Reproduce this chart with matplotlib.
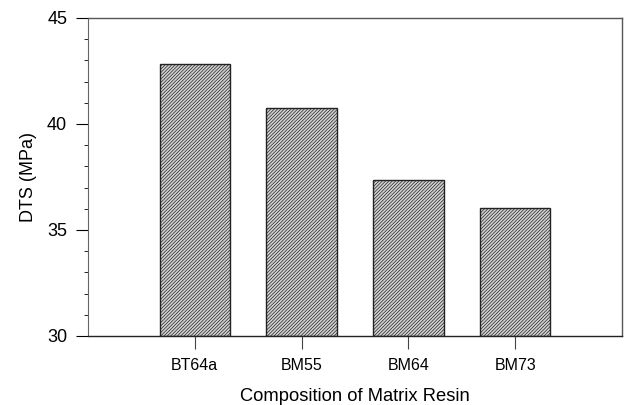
import matplotlib
matplotlib.use("Agg")
import matplotlib.pyplot as plt
from matplotlib.ticker import MultipleLocator

# Diametral tensile strength per matrix resin
resins = ["BT64a", "BM55", "BM64", "BM73"]
dts_mpa = [42.85, 40.75, 37.35, 36.05]

plt.rcParams["font.family"] = ["Liberation Sans", "DejaVu Sans"]
plt.rcParams["hatch.linewidth"] = 0.5
plt.rcParams["hatch.color"] = "#7a7a7a"

fig = plt.figure(figsize=(6.24, 4.05), dpi=100)
ax = fig.add_axes([88 / 624, 1 - 336 / 405, 534 / 624, 318 / 405])

pos = list(range(1, len(resins) + 1))
ax.bar(pos, [v - 30 for v in dts_mpa], bottom=30, width=0.66,
       color="#d2d2d2", edgecolor="#222222", linewidth=1.0,
       hatch="//////////", zorder=2)

ax.set_xlim(0, 5)
ax.set_ylim(30, 45)
ax.set_xticks(pos)
ax.set_xticklabels(resins, fontsize=11.5)
ax.yaxis.set_major_locator(MultipleLocator(5))
ax.yaxis.set_minor_locator(MultipleLocator(1))
ax.tick_params(axis="y", which="major", labelsize=13, length=9, width=0.8,
               direction="out", pad=6)
ax.tick_params(axis="y", which="minor", length=3, width=0.6, direction="out")
ax.tick_params(axis="x", which="major", length=9, width=0.8, direction="out",
               pad=7, color="#444444")

for side in ["top", "right"]:
    ax.spines[side].set_color("#555555")
    ax.spines[side].set_linewidth(1.0)
ax.spines["left"].set_color("#666666")
ax.spines["left"].set_linewidth(0.8)
ax.spines["bottom"].set_color("#222222")
ax.spines["bottom"].set_linewidth(1.0)

ax.set_ylabel("DTS (MPa)", fontsize=13, labelpad=7)
ax.set_xlabel("Composition of Matrix Resin", fontsize=13.2, va="baseline")
ax.xaxis.set_label_coords(0.5, -(401 - 336) / 318)

fig.savefig("out.png", dpi=100)
